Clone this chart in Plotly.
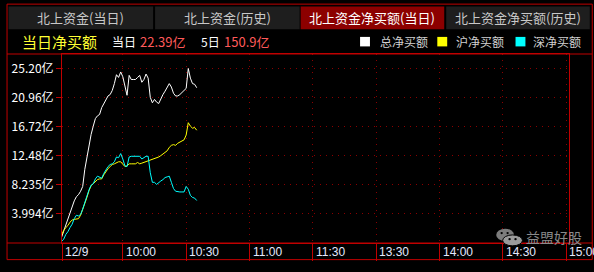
import plotly.graph_objects as go

# ---------------- data ----------------
minutes = list(range(1, 66))  # trading minutes after 9:30
total_net = [0.6, 1.5, 2.5, 3.4, 4.0, 5.0, 5.9, 6.5, 6.8, 7.3,
             8.0, 10.5, 12.4, 14.2, 15.6, 16.8, 17.9, 18.3, 18.5, 19.5,
             20.1, 20.7, 21.2, 21.4, 22.0, 23.0, 24.3, 23.9, 24.7, 24.0,
             22.6, 21.3, 24.2, 23.6, 23.6, 23.6, 23.9, 24.2, 23.2, 23.6,
             24.4, 23.8, 21.0, 20.2, 20.7, 20.3, 20.1, 20.8, 21.4, 21.9,
             22.5, 23.0, 22.5, 21.6, 21.2, 21.2, 21.4, 21.7, 21.9, 22.3,
             25.2, 23.8, 23.0, 22.9, 22.4]
sh_net = [0.9, 1.6, 2.0, 2.3, 2.8, 3.1, 3.2, 3.2, 3.3, 3.8,
          4.6, 5.6, 6.4, 7.4, 8.1, 8.4, 8.7, 9.0, 9.1, 9.1,
          9.7, 10.2, 10.6, 10.9, 11.2, 11.3, 11.5, 11.6, 11.6, 11.2,
          10.9, 11.0, 11.3, 11.3, 11.3, 11.3, 11.5, 11.3, 11.4, 11.5,
          11.6, 11.8, 11.8, 11.9, 12.0, 12.1, 12.3, 12.5, 12.7, 12.9,
          13.2, 13.7, 14.0, 14.1, 14.0, 14.3, 14.5, 14.7, 14.8, 15.5,
          17.3, 16.8, 16.5, 16.6, 16.2]
sz_net = [0.0, 0.3, 1.0, 1.4, 2.0, 2.5, 3.3, 3.8, 3.7, 3.9,
          4.7, 5.8, 6.6, 7.5, 8.2, 8.4, 9.1, 9.5, 9.4, 9.2,
          9.9, 10.5, 10.9, 11.2, 11.3, 11.6, 12.3, 12.2, 12.8, 12.0,
          11.0, 10.9, 12.3, 12.4, 12.4, 12.3, 12.4, 12.4, 12.0, 12.2,
          12.4, 12.4, 10.0, 8.6, 8.6, 8.3, 8.6, 8.8, 9.0, 9.3,
          9.4, 9.5, 8.6, 7.7, 7.3, 7.2, 7.2, 7.2, 7.2, 8.0,
          7.6, 6.7, 6.4, 6.3, 5.95]

y_tickvals = [3.994, 8.235, 12.48, 16.72, 20.96, 25.20]
y_ticktext = ["3.994亿", "8.235亿", "12.48亿", "16.72亿", "20.96亿", "25.20亿"]
x_tickvals = [1.2, 30, 60, 90, 120, 150, 180, 210, 240]
x_ticktext = ["12/9", "10:00", "10:30", "11:00", "11:30", "13:30", "14:00", "14:30", "15:00"]

tabs = ["北上资金(当日)", "北上资金(历史)", "北上资金净买额(当日)", "北上资金净买额(历史)"]
legend_names = ["总净买额", "沪净买额", "深净买额"]
today_value = "22.39亿"
five_day_value = "150.9亿"

# ---------------- layout helpers ----------------
W, H = 594, 272
L, R, T, B = 57, 569, 54, 253
RED = "#c00000"
GRID = "#8b0000"
CJK = "Noto Sans CJK SC"


def px(x):
    return (x - L) / (R - L)


def py(y):
    return (B - y) / (B - T)


fig = go.Figure()
line_colors = ["#ffffff", "#ffff00", "#00ffff"]
for name, vals, col in zip(legend_names, [total_net, sh_net, sz_net], line_colors):
    fig.add_trace(go.Scatter(x=minutes, y=vals, mode="lines", name=name,
                             line=dict(color=col, width=1), showlegend=False,
                             hoverinfo="skip"))

shapes = []
annotations = []

# outer frame
shapes.append(dict(type="rect", xref="paper", yref="paper",
                   x0=px(1.5), x1=px(592.5), y0=py(1.5), y1=py(270.5),
                   line=dict(color=RED, width=1), fillcolor="rgba(0,0,0,0)", layer="above"))
# header separator and bottom axis row line, full width
for yy in (T, B):
    shapes.append(dict(type="line", xref="paper", yref="paper",
                       x0=px(1.5), x1=px(592.5), y0=py(yy), y1=py(yy),
                       line=dict(color=RED, width=1), layer="above"))

# tabs
tab_x = [(3, 149), (151, 297), (298, 443), (445, 590)]
for i, ((x0, x1), label) in enumerate(zip(tab_x, tabs)):
    active = (i == 2)
    shapes.append(dict(type="rect", xref="paper", yref="paper",
                       x0=px(x0), x1=px(x1), y0=py(4), y1=py(28),
                       fillcolor="#8c0000" if active else "#1e1e1e",
                       line=dict(width=0), layer="below"))
    annotations.append(dict(xref="paper", yref="paper", x=px((x0 + x1) / 2), y=py(16),
                            text=label, showarrow=False, xanchor="center", yanchor="middle",
                            font=dict(family=CJK, size=13,
                                      color="#ffffff" if active else "#c8c8c8")))

# header texts
def txt(x, y, s, color, size):
    annotations.append(dict(xref="paper", yref="paper", x=px(x), y=py(y), text=s,
                            showarrow=False, xanchor="left", yanchor="middle",
                            font=dict(family=CJK, size=size, color=color)))

txt(15, 41, "当日净买额", "#ffff33", 15)
txt(105, 41, "当日", "#ffffff", 12)
txt(134, 41, today_value, "#ff5a5a", 13)
txt(195, 41, "5日", "#ffffff", 12)
txt(219, 41, five_day_value, "#ff5a5a", 13)

# legend
leg_sq = [358, 436, 515]
leg_tx = [376, 453, 531]
for sx, tx, col, name in zip(leg_sq, leg_tx, line_colors, legend_names):
    shapes.append(dict(type="rect", xref="paper", yref="paper",
                       x0=px(sx), x1=px(sx + 10), y0=py(36), y1=py(46),
                       fillcolor=col, line=dict(width=0)))
    txt(tx, 41, name, "#d0d0d0", 12)

# x labels (left aligned to separators)
for v, s in zip(x_tickvals, x_ticktext):
    annotations.append(dict(xref="x", yref="paper", x=v, y=py(262), text=s,
                            showarrow=False, xanchor="left", yanchor="middle", xshift=1,
                            font=dict(family="Liberation Sans, Arial", size=12, color="#e4e8ff")))

# watermark (WeChat-like icon + text)
shapes.append(dict(type="circle", xref="paper", yref="paper",
                   x0=px(495.5), x1=px(513.5), y0=py(238), y1=py(251),
                   fillcolor="#7c7c7c", line=dict(width=0), layer="above"))
shapes.append(dict(type="circle", xref="paper", yref="paper",
                   x0=px(502), x1=px(522), y0=py(244.5), y1=py(256),
                   fillcolor="#9a9a9a", line=dict(color="#000000", width=1), layer="above"))
for ex, ey in [(501, 242.5), (507, 242.5), (509, 249), (515, 249)]:
    shapes.append(dict(type="circle", xref="paper", yref="paper",
                       x0=px(ex - 1.2), x1=px(ex + 1.2), y0=py(ey - 1.2), y1=py(ey + 1.2),
                       fillcolor="#000000", line=dict(width=0), layer="above"))
annotations.append(dict(xref="paper", yref="paper", x=px(524), y=py(246.5), text="益盟好股",
                        showarrow=False, xanchor="left", yanchor="middle",
                        font=dict(family=CJK, size=14, color="#8a8a8a")))

fig.update_layout(
    width=W, height=H,
    margin=dict(l=L, r=W - R, t=T, b=H - B, pad=0),
    paper_bgcolor="#000000", plot_bgcolor="#000000",
    showlegend=False,
    shapes=shapes, annotations=annotations,
    xaxis=dict(range=[1.2, 241.3], tickvals=x_tickvals, ticktext=x_ticktext,
               showticklabels=False, ticks="outside", ticklen=17, tickcolor=RED, tickwidth=1,
               showline=True, linecolor=RED, linewidth=1, mirror=True,
               showgrid=True, gridcolor=GRID, griddash="1px,5px", gridwidth=1,
               zeroline=False, fixedrange=True),
    yaxis=dict(range=[-0.247, 27.32], tickvals=y_tickvals, ticktext=y_ticktext,
               ticks="outside", ticklen=5, tickcolor=RED, tickwidth=1,
               tickfont=dict(family=CJK, size=12, color="#ffffff"),
               showline=True, linecolor=RED, linewidth=1, mirror=True,
               showgrid=True, gridcolor=GRID, griddash="1px,5px", gridwidth=1,
               zeroline=False, fixedrange=True),
)

fig.write_html("out.html")
